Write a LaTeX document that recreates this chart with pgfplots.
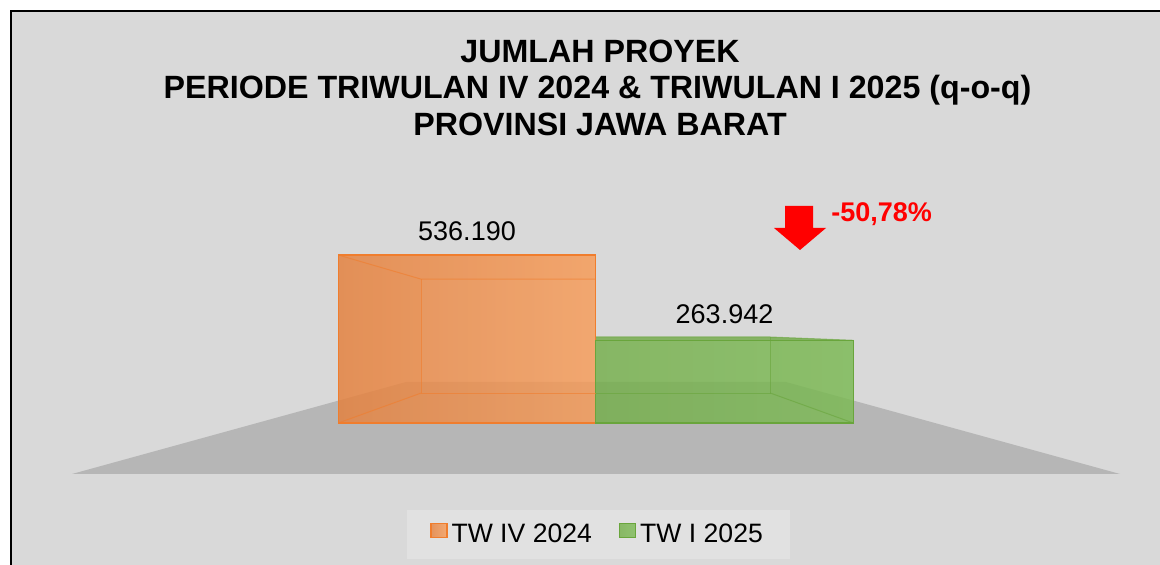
\documentclass[border=0pt]{standalone}
\usepackage{fontspec}
\setmainfont{Liberation Sans}
\usepackage{pgfplots}
\pgfplotsset{compat=1.18}

\definecolor{bgc}{RGB}{217,217,217}
\definecolor{floorc}{RGB}{182,182,182}
\definecolor{legc}{RGB}{225,225,225}
\definecolor{orL}{RGB}{229,128,60}
\definecolor{orR}{RGB}{248,155,86}
\definecolor{orE}{RGB}{240,125,45}
\definecolor{grL}{RGB}{114,174,71}
\definecolor{grR}{RGB}{123,186,83}
\definecolor{grE}{RGB}{105,165,60}

\pgfplotsset{sqlegend/.style={legend image code/.code={%
  \draw[##1] (0pt,-1.5pt) rectangle (8pt,5.5pt);}}}

\begin{document}
\begin{tikzpicture}
% pixel frame: (0,0) top left, 1 px = 0.5pt
\begin{scope}[x=0.5pt,y=-0.5pt]
  \path[use as bounding box] (0,0) rectangle (1160,565);
  \fill[white] (0,0) rectangle (1160,565);
  \fill[bgc] (11,11) rectangle (1175,580);
  \draw[black, line width=1pt] (11,580) -- (11,11) -- (1175,11);
  % floor
  \fill[floorc] (72,474) -- (406,382) -- (786,382) -- (1120,474) -- cycle;
\end{scope}

\begin{axis}[
    at={(0pt,-282.5pt)}, anchor=south west,
    scale only axis, width=580pt, height=282.5pt,
    xmin=-0.8136, xmax=3.6913,
    ymin=-453.2, ymax=1350.1,
    hide axis, clip=false,
    legend columns=2,
    legend cell align=left,
    legend style={at={(0.5160,0.054)}, anchor=center,
      fill=legc, draw=none, inner xsep=11.5pt, inner ysep=5pt,
      font=\fontsize{13.3pt}{15pt}\selectfont,
      /tikz/every even column/.append style={column sep=11.5pt}},
  ]
  % 3D side faces (perspective toward x=1.5, y=296.8)
  \addplot[forget plot, draw=none, fill=orL, fill opacity=0.12]
    coordinates {(0.5,0) (0.822,95.6) (0.822,459.1) (0.5,536.19) (0.5,0)};
  \addplot[forget plot, draw=none, fill=orR, fill opacity=0.10]
    coordinates {(0.5,536.19) (1.5,536.19) (1.5,459.1) (0.822,459.1) (0.5,536.19)};
  \addplot[forget plot, draw=none, fill=grE, fill opacity=0.75]
    coordinates {(1.5,263.942) (2.5,263.942) (2.178,274.5) (1.5,274.5) (1.5,263.942)};
  \addplot[forget plot, draw=none, fill=grR, fill opacity=0.10]
    coordinates {(2.5,0) (2.178,95.6) (2.178,274.5) (2.5,263.942) (2.5,0)};

  % front faces
  \addplot[ybar, bar width=1, bar shift=0pt,
    draw=orE, line width=0.6pt, left color=orL, right color=orR,
    fill opacity=0.8, sqlegend,
    point meta=explicit symbolic, nodes near coords,
    nodes near coords style={anchor=base, yshift=7.5pt, text=black,
      /tikz/fill opacity=1, /tikz/text opacity=1,
      font=\fontsize{13.5pt}{15pt}\selectfont}]
    coordinates {(1,536.190) [536.190]};
  \addlegendentry{TW IV 2024}
  \addplot[ybar, bar width=1, bar shift=0pt,
    draw=grE, line width=0.6pt, left color=grL, right color=grR,
    fill opacity=0.8, sqlegend,
    point meta=explicit symbolic, nodes near coords,
    nodes near coords style={anchor=base, yshift=8.5pt, text=black,
      /tikz/fill opacity=1, /tikz/text opacity=1,
      font=\fontsize{13.5pt}{15pt}\selectfont}]
    coordinates {(2,263.942) [263.942]};
  \addlegendentry{TW I 2025}

  % 3D edges
  \addplot[forget plot, orE, line width=0.5pt, draw opacity=0.6]
    coordinates {(0.5,536.19) (0.822,459.1) (1.5,459.1)};
  \addplot[forget plot, orE, line width=0.5pt, draw opacity=0.6]
    coordinates {(0.822,459.1) (0.822,95.6) (1.5,95.6)};
  \addplot[forget plot, orE, line width=0.5pt, draw opacity=0.6]
    coordinates {(0.822,95.6) (0.5,0)};
  \addplot[forget plot, grE, line width=0.5pt, draw opacity=0.6]
    coordinates {(1.5,274.5) (2.178,274.5) (2.5,263.942)};
  \addplot[forget plot, grE, line width=0.5pt, draw opacity=0.6]
    coordinates {(2.178,274.5) (2.178,95.6) (1.5,95.6)};
  \addplot[forget plot, grE, line width=0.5pt, draw opacity=0.6]
    coordinates {(2.178,95.6) (2.5,0)};
\end{axis}

\begin{scope}[x=0.5pt,y=-0.5pt]
  \begin{scope}[every node/.style={anchor=base, inner sep=0pt,
      font=\bfseries\fontsize{16.1pt}{18pt}\selectfont}]
    \node at (600,63) {JUMLAH PROYEK};
    \node at (597.5,99) {PERIODE TRIWULAN IV 2024 \& TRIWULAN I 2025 (q-o-q)};
    \node at (600,136) {PROVINSI JAWA BARAT};
  \end{scope}
  % change indicator
  \fill[red] (785,206) -- (813,206) -- (813,228) -- (826,228) -- (800,250)
    -- (774,228) -- (785,228) -- cycle;
  \node[anchor=base west, inner sep=0pt, text=red,
    font=\bfseries\fontsize{13.5pt}{15pt}\selectfont] at (831,222) {-50,78\%};
\end{scope}
\end{tikzpicture}
\end{document}
